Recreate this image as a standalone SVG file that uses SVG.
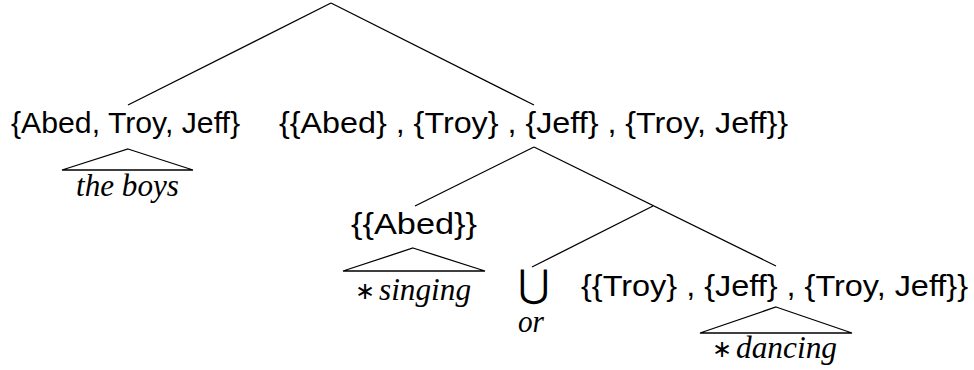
<svg xmlns="http://www.w3.org/2000/svg" width="974" height="370" viewBox="0 0 974 370">
<style>
.sans{font-family:"Liberation Sans","Lato",sans-serif;font-size:30px;fill:#000}
.it{font-family:"Liberation Serif","DejaVu Serif",serif;font-style:italic;font-size:32px;fill:#000}
.ast{font-family:"DejaVu Sans",sans-serif;font-size:24px;fill:#000}
.cup{font-family:"DejaVu Sans",sans-serif;font-size:38px;fill:#000}
.edge{stroke:#000;stroke-width:1.3;fill:none;stroke-linejoin:miter}
</style>
<rect width="974" height="370" fill="#fff"/>
<g id="connectors" class="edge">
<line x1="331" y1="3" x2="128" y2="105"/>
<line x1="331" y1="3" x2="534" y2="105"/>
<line x1="534" y1="147" x2="415" y2="206"/>
<line x1="534" y1="147" x2="776" y2="266"/>
<line x1="653" y1="206" x2="532" y2="267"/>
<polygon points="128,149 193,170 62,170"/>
<polygon points="413,248 485,271 343,271"/>
<polygon points="776,307 852,333 700,333"/>
</g>
<g id="node-boys">
<text class="sans" x="11" y="133" textLength="229" lengthAdjust="spacingAndGlyphs">{Abed, Troy, Jeff}</text>
<text class="it" x="76" y="196" textLength="103" lengthAdjust="spacingAndGlyphs">the boys</text>
</g>
<g id="node-vp">
<text class="sans" x="279" y="133" textLength="509" lengthAdjust="spacingAndGlyphs">{{Abed} , {Troy} , {Jeff} , {Troy, Jeff}}</text>
</g>
<g id="node-singing">
<text class="sans" x="351" y="234" textLength="126" lengthAdjust="spacingAndGlyphs">{{Abed}}</text>
<text class="ast" x="355" y="299">∗</text>
<text class="it" x="379" y="300" textLength="92" lengthAdjust="spacingAndGlyphs">singing</text>
</g>
<g id="node-or">
<text class="cup" x="518" y="297">⋃</text>
<text class="it" x="518" y="332" textLength="26" lengthAdjust="spacingAndGlyphs">or</text>
</g>
<g id="node-dancing">
<text class="sans" x="581" y="296" textLength="387" lengthAdjust="spacingAndGlyphs">{{Troy} , {Jeff} , {Troy, Jeff}}</text>
<text class="ast" x="712" y="357">∗</text>
<text class="it" x="736" y="358" textLength="101" lengthAdjust="spacingAndGlyphs">dancing</text>
</g>
</svg>
